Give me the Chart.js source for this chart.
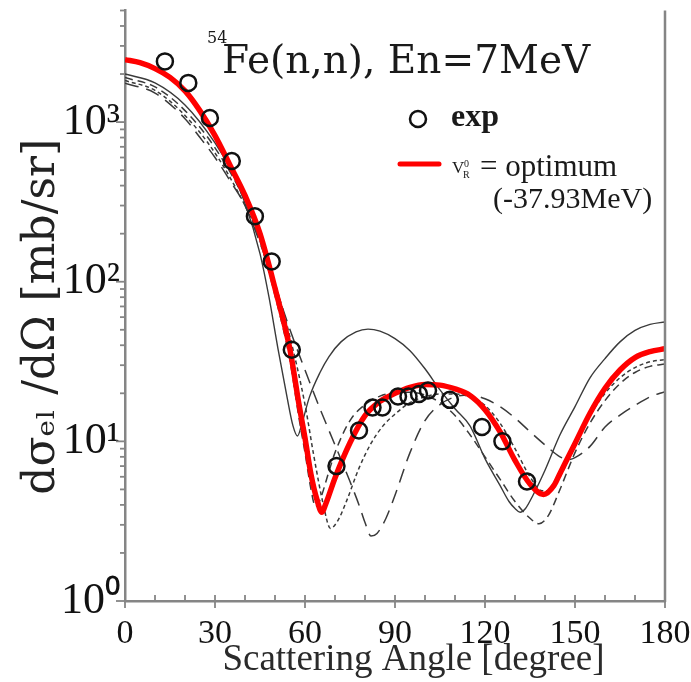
<!DOCTYPE html>
<html>
<head>
<meta charset="utf-8">
<script src="https://cdn.jsdelivr.net/npm/chart.js@4.4.1/dist/chart.umd.min.js"></script>
<style>
  html, body { margin: 0; padding: 0; background: #ffffff; }
  canvas { display: block; }
</style>
</head>
<body>
<canvas id="c" width="691" height="682"></canvas>
<script>
// ---------- data ----------
const expAngle = [13.3, 21.1, 28.3, 35.6, 43.3, 48.9, 55.6, 70.5, 78.0, 82.5, 85.8, 91.0, 94.5, 98.0, 101.0, 108.3, 119.0, 125.8, 134.0];
const expSigma = [2400, 1760, 1060, 570, 257, 134, 37.5, 7.0, 11.7, 16.3, 16.3, 19.1, 19.1, 19.8, 20.8, 18.2, 12.3, 10.0, 5.6];

const optAngle = [0, 5, 10, 15, 20, 25, 30, 35, 40, 45, 50, 55, 58, 60, 62, 64, 65.6, 67, 70, 75, 80, 85, 90, 95, 100, 105, 110, 115, 120, 125, 130, 135, 139.5, 143, 145, 150, 155, 160, 165, 170, 175, 180];
const optSigma = [2460, 2355, 2163, 1905, 1567, 1175, 822, 537, 347, 200, 91, 37.5, 17, 10.5, 6.2, 4.3, 3.6, 4.1, 5.9, 9.8, 14.5, 17.8, 20, 21.8, 22.7, 22.5, 21.3, 19.4, 15.8, 11.5, 7.6, 5.4, 4.65, 5.3, 6.3, 9.7, 15, 21.5, 28, 33.5, 36.5, 38];

const solidAngle = [0, 10, 20, 30, 35, 40, 45, 48, 51, 54, 56, 57.5, 59, 61.5, 65, 68, 72, 77, 81, 85, 90, 95, 100, 105, 110, 115, 120, 125, 128, 130, 131.7, 133.5, 136, 140, 145, 150, 155, 160, 165, 170, 175, 180];
const solidSigma = [2000, 1760, 1280, 740, 510, 310, 150, 80, 38, 19, 12.5, 10.8, 13, 19, 27, 34, 42, 48.5, 50.5, 49, 44, 37, 28.5, 21, 16, 12.5, 7.8, 5.3, 4.2, 3.8, 3.6, 3.8, 4.6, 6.6, 11, 16.5, 25, 33, 42, 49.5, 54, 56];

const longDashAngle = [0, 10, 20, 25, 30, 35, 40, 45, 50, 55, 60, 65, 70, 75, 78, 80, 82, 84, 87, 90, 95, 100, 105, 110, 115, 120, 125, 130, 135, 140, 145, 148, 150, 155, 160, 165, 170, 175, 180];
const longDashSigma = [1750, 1520, 1050, 800, 600, 430, 300, 175, 95, 50, 28, 16, 9.5, 5.6, 4.0, 3.1, 2.55, 2.65, 3.3, 4.6, 8.5, 13.5, 17, 19, 19.5, 18.5, 16.5, 14, 11.5, 9.5, 8.0, 7.7, 7.9, 9.3, 12.3, 14.6, 16.8, 19, 20.5];

const midDashAngle = [0, 10, 20, 30, 40, 45, 50, 55, 58, 60, 62, 63.5, 65, 68, 70, 75, 80, 85, 90, 95, 100, 105, 110, 115, 120, 125, 130, 135, 138, 141, 145, 150, 155, 160, 165, 170, 175, 180];
const midDashSigma = [1900, 1660, 1180, 690, 320, 180, 82, 32, 14, 8.5, 5, 3.9, 4.3, 6.5, 8.5, 13.5, 17, 19.2, 20.2, 20.3, 19.5, 17.5, 14.5, 11, 8, 5.8, 4.2, 3.3, 3.05, 3.4, 5, 8.5, 13, 18, 23, 27, 29.5, 30.5];

const shortDashAngle = [0, 10, 20, 30, 40, 45, 50, 55, 60, 63, 66, 68.5, 71, 74, 78, 82, 86, 90, 95, 100, 105, 110, 115, 120, 125, 130, 135, 139, 141.5, 145, 150, 155, 160, 165, 170, 175, 180];
const shortDashSigma = [1820, 1580, 1100, 640, 300, 185, 98, 45, 17, 8, 4.1, 2.85, 3.2, 4.3, 6.8, 9.7, 12.5, 14.8, 17.5, 19, 19.8, 19.8, 19, 16.8, 13, 9, 6, 4.9, 4.9, 6, 9.5, 14.5, 20, 25, 29, 31.5, 32.5];

const xTickValues = [0, 30, 60, 90, 120, 150, 180];
const xTickLabels = ['0', '30', '60', '90', '120', '150', '180'];
const xMinorValues = [10, 20, 40, 50, 70, 80, 100, 110, 130, 140, 160, 170];
const yMajorValues = [1, 10, 100, 1000];
const yTickLabels = ['10\u2070', '10\u00B9', '10\u00B2', '10\u00B3'];
const yMin = 1, yMax = 5000;

const titleSup = '54';
const titleText = 'Fe(n,n), En=7MeV';
const xTitle = '\u2002\u2002Scattering Angle [degree]';
const yTitle = 'd\u03C3\u2091\u2097 /d\u03A9 [mb/sr]\u2002';
const legendExp = 'exp';
const legendOpt1 = '= optimum';
const legendOpt2 = '(-37.93MeV)';

// ---------- helpers ----------
const pts = (xs, ys) => xs.map((x, i) => ({ x: x, y: ys[i] }));
const yAllTicks = [];
yMajorValues.forEach(d => { for (let m = 1; m <= 9; m++) { const v = m * d; if (v <= yMax) yAllTicks.push(v); } });

const frameColor = '#858585';
const grayLine = '#3a3a3a';

const decorations = {
  id: 'decorations',
  afterDraw(chart) {
    const { ctx, chartArea: a, scales: { x, y } } = chart;
    ctx.save();
    ctx.strokeStyle = frameColor;
    ctx.lineWidth = 2.5;
    ctx.beginPath(); ctx.moveTo(a.right, a.top); ctx.lineTo(a.right, a.bottom + 1); ctx.stroke();
    ctx.lineWidth = 1.8;
    yAllTicks.forEach(v => {
      const py = y.getPixelForValue(v);
      const len = yMajorValues.includes(v) ? 9 : 5;
      ctx.beginPath(); ctx.moveTo(a.left - len, py); ctx.lineTo(a.left, py); ctx.stroke();
    });
    xTickValues.forEach(v => {
      const px = x.getPixelForValue(v);
      ctx.beginPath(); ctx.moveTo(px, a.bottom - 6); ctx.lineTo(px, a.bottom + 7); ctx.stroke();
    });
    xMinorValues.forEach(v => {
      const px = x.getPixelForValue(v);
      ctx.beginPath(); ctx.moveTo(px, a.bottom - 6); ctx.lineTo(px, a.bottom); ctx.stroke();
    });

    ctx.fillStyle = '#1a1a1a';
    ctx.textBaseline = 'alphabetic';
    ctx.textAlign = 'left';
    ctx.font = '16px "DejaVu Serif"';
    ctx.fillText(titleSup, 207, 43);
    ctx.font = '39px "DejaVu Serif"';
    ctx.fillText(titleText, 222, 73);

    ctx.strokeStyle = '#111111';
    ctx.lineWidth = 2.5;
    ctx.beginPath(); ctx.arc(418, 119, 8, 0, Math.PI * 2); ctx.stroke();
    ctx.font = 'bold 32px "Liberation Serif"';
    ctx.fillText(legendExp, 451, 126);

    ctx.strokeStyle = '#ff0000';
    ctx.lineWidth = 5;
    ctx.lineCap = 'round';
    ctx.beginPath(); ctx.moveTo(400, 164); ctx.lineTo(439, 164); ctx.stroke();

    ctx.font = '17px "Liberation Serif"';
    ctx.fillText('V', 452, 173);
    ctx.font = '10px "Liberation Serif"';
    ctx.fillText('R', 463, 178);
    ctx.fillText('0', 464, 167);
    ctx.font = '31px "Liberation Serif"';
    ctx.fillText(legendOpt1, 480, 176);
    ctx.font = '30px "Liberation Serif"';
    ctx.fillText(legendOpt2, 493, 208);
    ctx.restore();
  }
};

const lineBase = { showLine: true, pointRadius: 0, fill: false, cubicInterpolationMode: 'monotone' };

new Chart(document.getElementById('c'), {
  type: 'scatter',
  data: {
    datasets: [
      { label: 'exp', data: pts(expAngle, expSigma), showLine: false, pointStyle: 'circle', pointRadius: 8, pointHoverRadius: 8,
        borderColor: '#111111', backgroundColor: 'rgba(0,0,0,0)', borderWidth: 2.5, order: 0 },
      Object.assign({ label: 'optimum', data: pts(optAngle, optSigma), borderColor: '#ff0000', borderWidth: 5.5, order: 1 }, lineBase),
      Object.assign({ label: 'solid', data: pts(solidAngle, solidSigma), borderColor: grayLine, borderWidth: 1.4, order: 2 }, lineBase),
      Object.assign({ label: 'long dash', data: pts(longDashAngle, longDashSigma), borderColor: grayLine, borderWidth: 1.5, borderDash: [14, 8], order: 3 }, lineBase),
      Object.assign({ label: 'mid dash', data: pts(midDashAngle, midDashSigma), borderColor: grayLine, borderWidth: 1.5, borderDash: [8, 5], order: 4 }, lineBase),
      Object.assign({ label: 'short dash', data: pts(shortDashAngle, shortDashSigma), borderColor: grayLine, borderWidth: 1.5, borderDash: [4, 3], order: 5 }, lineBase)
    ]
  },
  options: {
    responsive: false,
    animation: false,
    devicePixelRatio: 1,
    layout: { padding: { top: 10, right: 26, left: 0, bottom: 0 } },
    plugins: { legend: { display: false }, tooltip: { enabled: false }, title: { display: false } },
    scales: {
      x: {
        type: 'linear', min: 0, max: 180,
        grid: { display: false },
        border: { display: true, color: frameColor, width: 2.5 },
        afterFit: s => { s.height = 81; s.paddingLeft = 0; s.paddingRight = 0; },
        afterBuildTicks: s => { s.ticks = xTickValues.map(v => ({ value: v })); },
        ticks: {
          autoSkip: false, maxRotation: 0, padding: 5, color: '#111111',
          font: { family: '"Liberation Serif"', size: 34 },
          callback: v => { const i = xTickValues.indexOf(v); return i >= 0 ? xTickLabels[i] : ''; }
        },
        title: { display: true, text: xTitle, color: '#2a2a2a', padding: { top: 0, bottom: 0 },
          font: { family: '"Liberation Serif"', size: 37 } }
      },
      y: {
        type: 'logarithmic', min: yMin, max: yMax,
        grid: { display: false },
        border: { display: true, color: frameColor, width: 2.5 },
        afterFit: s => { s.width = 125; s.paddingTop = 0; s.paddingBottom = 0; },
        afterBuildTicks: s => { s.ticks = yAllTicks.map(v => ({ value: v })); },
        ticks: {
          autoSkip: false, padding: -3, color: '#111111',
          font: { family: '"Liberation Serif"', size: 44 },
          callback: v => { const i = yMajorValues.indexOf(v); return i >= 0 ? yTickLabels[i] : ''; }
        },
        title: { display: true, text: yTitle, color: '#222222', padding: { top: 16, bottom: 0 },
          font: { family: '"DejaVu Serif"', size: 44 } }
      }
    }
  },
  plugins: [decorations]
});
</script>
</body>
</html>
